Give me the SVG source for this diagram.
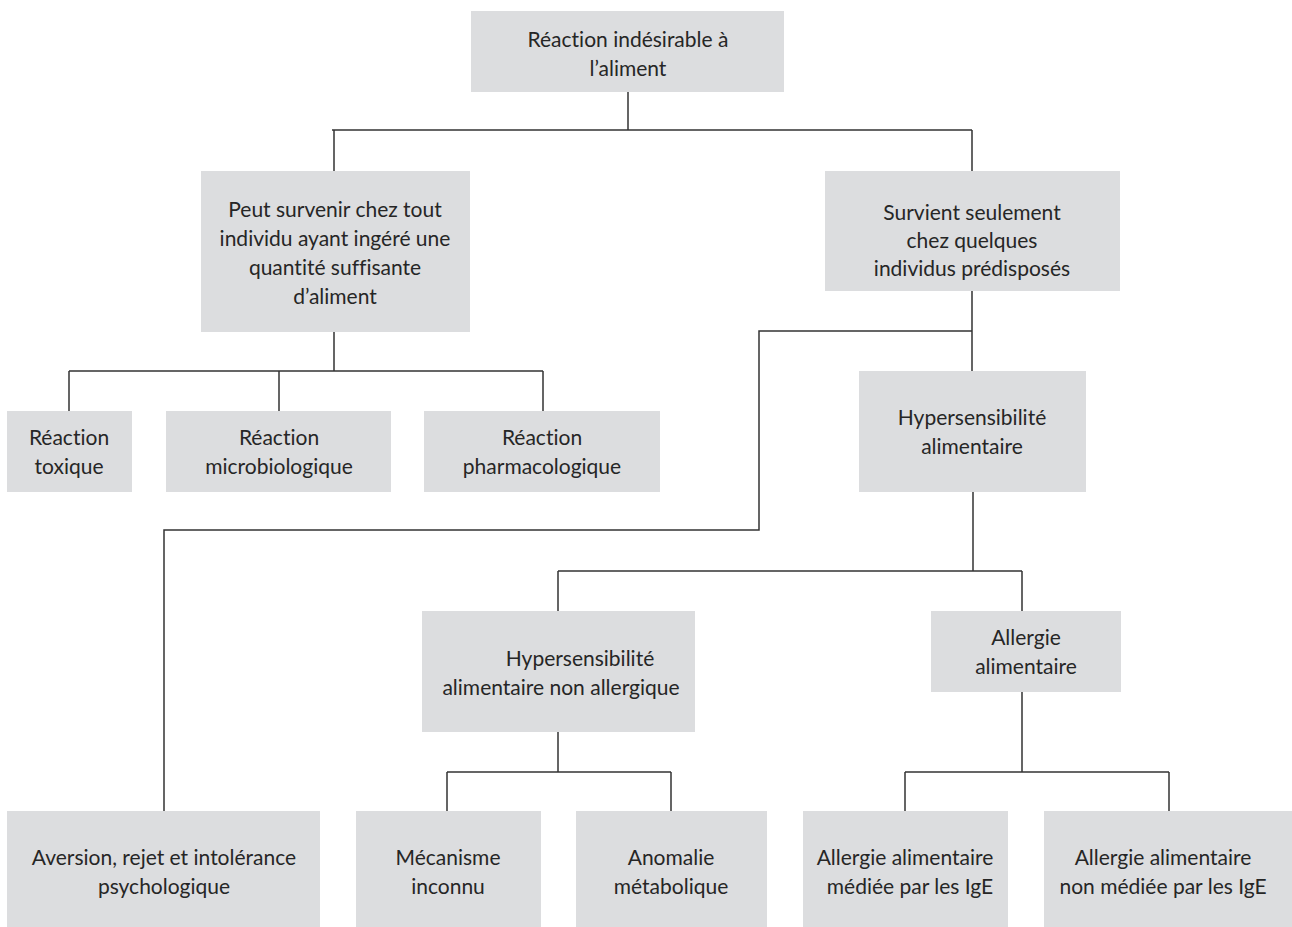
<svg xmlns="http://www.w3.org/2000/svg" width="1292" height="927" viewBox="0 0 1292 927">
<style>
.box{fill:#dcdddf}
.t{font-family:Lato,"Liberation Sans",sans-serif;font-size:21px;fill:#262626;text-anchor:middle;font-variant-ligatures:none;font-feature-settings:"liga" 0,"dlig" 0}
.c{fill:none;stroke:#333;stroke-width:1.5}
</style>
<rect width="1292" height="927" fill="#fff"/>
<g id="connectors" class="c">
<path d="M628 92V130M332 130H972M334 130V171M972 130V171"/>
<path d="M334 332V371M69 371H543M69 371V411M279 371V411M543 371V411"/>
<path d="M972 291V371M972 331H759V530H164V811"/>
<path d="M973 492V571M558 571H1022M558 571V611M1022 571V611"/>
<path d="M558 732V772M447 772H671M447 772V811M671 772V811"/>
<path d="M1022 692V772M905 772H1169M905 772V811M1169 772V811"/>
</g>
<g id="n1"><rect class="box" x="471" y="11" width="313" height="81"/><text class="t" x="628" y="47">Réaction indésirable à</text><text class="t" x="628" y="76">l’aliment</text></g>
<g id="n2"><rect class="box" x="201" y="171" width="269" height="161"/><text class="t" x="335" y="217">Peut survenir chez tout</text><text class="t" x="335" y="246">individu ayant ingéré une</text><text class="t" x="335" y="275">quantité suffisante</text><text class="t" x="335" y="304">d’aliment</text></g>
<g id="n3"><rect class="box" x="825" y="171" width="295" height="120"/><text class="t" x="972" y="220">Survient seulement</text><text class="t" x="972" y="248">chez quelques</text><text class="t" x="972" y="276">individus prédisposés</text></g>
<g id="n4"><rect class="box" x="7" y="411" width="125" height="81"/><text class="t" x="69" y="445">Réaction</text><text class="t" x="69" y="474">toxique</text></g>
<g id="n5"><rect class="box" x="166" y="411" width="225" height="81"/><text class="t" x="279" y="445">Réaction</text><text class="t" x="279" y="474">microbiologique</text></g>
<g id="n6"><rect class="box" x="424" y="411" width="236" height="81"/><text class="t" x="542" y="445">Réaction</text><text class="t" x="542" y="474">pharmacologique</text></g>
<g id="n7"><rect class="box" x="859" y="371" width="227" height="121"/><text class="t" x="972" y="425">Hypersensibilité</text><text class="t" x="972" y="454">alimentaire</text></g>
<g id="n8"><rect class="box" x="422" y="611" width="273" height="121"/><text class="t" x="580" y="666">Hypersensibilité</text><text class="t" x="561" y="695">alimentaire non allergique</text></g>
<g id="n9"><rect class="box" x="931" y="611" width="190" height="81"/><text class="t" x="1026" y="645">Allergie</text><text class="t" x="1026" y="674">alimentaire</text></g>
<g id="n10"><rect class="box" x="7" y="811" width="313" height="116"/><text class="t" x="164" y="865">Aversion, rejet et intolérance</text><text class="t" x="164" y="894">psychologique</text></g>
<g id="n11"><rect class="box" x="356" y="811" width="185" height="116"/><text class="t" x="448" y="865">Mécanisme</text><text class="t" x="448" y="894">inconnu</text></g>
<g id="n12"><rect class="box" x="576" y="811" width="191" height="116"/><text class="t" x="671" y="865">Anomalie</text><text class="t" x="671" y="894">métabolique</text></g>
<g id="n13"><rect class="box" x="803" y="811" width="205" height="116"/><text class="t" x="905" y="865">Allergie alimentaire</text><text class="t" x="910" y="894">médiée par les IgE</text></g>
<g id="n14"><rect class="box" x="1044" y="811" width="248" height="116"/><text class="t" x="1163" y="865">Allergie alimentaire</text><text class="t" x="1163" y="894">non médiée par les IgE</text></g>
</svg>
